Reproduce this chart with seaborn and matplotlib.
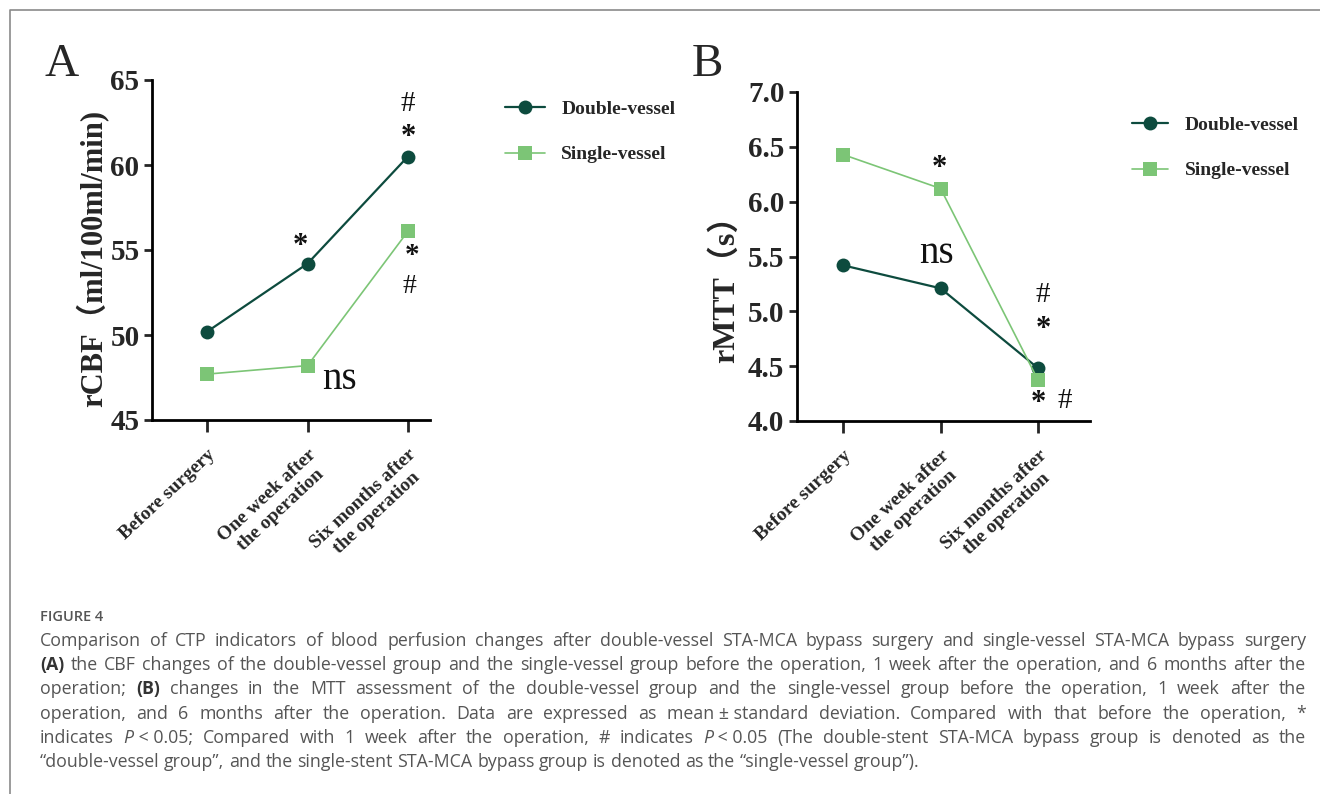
import matplotlib
matplotlib.use("Agg")
import matplotlib.pyplot as plt
import seaborn as sns
import pandas as pd
from matplotlib.lines import Line2D

# Data
timepoints = ["Before surgery", "One week after\nthe operation", "Six months after\nthe operation"]
groups = ["Double-vessel", "Single-vessel"]
rcbf_double = [50.2, 54.2, 60.5]
rcbf_single = [47.7, 48.2, 56.1]
rmtt_double = [5.42, 5.21, 4.48]
rmtt_single = [6.43, 6.12, 4.37]

rcbf_ticks = [45, 50, 55, 60, 65]
rmtt_ticks = [4.0, 4.5, 5.0, 5.5, 6.0, 6.5, 7.0]

caption_title = "FIGURE 4"
caption_lines = [
    "Comparison of CTP indicators of blood perfusion changes after double-vessel STA-MCA bypass surgery and single-vessel STA-MCA bypass surgery",
    "(A) the CBF changes of the double-vessel group and the single-vessel group before the operation, 1 week after the operation, and 6 months after the",
    "operation; (B) changes in the MTT assessment of the double-vessel group and the single-vessel group before the operation, 1 week after the",
    "operation, and 6 months after the operation. Data are expressed as mean\u00a0\u00b1\u00a0standard deviation. Compared with that before the operation, *",
    "indicates P\u00a0<\u00a00.05; Compared with 1 week after the operation, # indicates P\u00a0<\u00a00.05 (The double-stent STA-MCA bypass group is denoted as the",
    "\u201cdouble-vessel group\u201d, and the single-stent STA-MCA bypass group is denoted as the \u201csingle-vessel group\u201d).",
]

DARK = "#0d4b3e"
LIGHT = "#7cc576"
palette = {"Double-vessel": DARK, "Single-vessel": LIGHT}
markers = {"Double-vessel": "o", "Single-vessel": "s"}
widths = {"Double-vessel": 1.6, "Single-vessel": 1.2}

sns.set_style("ticks")
SERIF = ["Liberation Serif", "Noto Sans CJK SC", "DejaVu Serif"]
plt.rcParams["font.family"] = SERIF


def long_df(double, single, name):
    rows = []
    for g, vals in zip(groups, [double, single]):
        for i, v in enumerate(vals):
            rows.append({"pos": i, name: v, "group": g})
    return pd.DataFrame(rows)


def style_axes(ax, ticks, fmt, xlim):
    ax.set_xlim(*xlim)
    ax.set_ylim(ticks[0], ticks[-1])
    ax.set_yticks(ticks)
    ax.set_yticklabels([fmt.format(t) for t in ticks], fontsize=21, fontweight="bold")
    ax.set_xticks(range(len(timepoints)))
    ax.set_xticklabels(timepoints, rotation=43, ha="right", va="top",
                       rotation_mode="anchor", fontsize=14, fontweight="bold",
                       multialignment="center")
    for side in ["top", "right"]:
        ax.spines[side].set_visible(False)
    for side in ["left", "bottom"]:
        ax.spines[side].set_linewidth(2.0)
        ax.spines[side].set_color("black")
    ax.tick_params(axis="y", length=6, width=2, pad=3)
    ax.tick_params(axis="x", length=8.5, width=2, pad=10)
    ax.set_xlabel("")


fig = plt.figure(figsize=(13.2, 7.94), dpi=100)
ax_a = fig.add_axes([152 / 1320, 1 - 420 / 794, 278 / 1320, 340 / 794])
ax_b = fig.add_axes([797 / 1320, 1 - 421 / 794, 293 / 1320, 329 / 794])

df_a = long_df(rcbf_double, rcbf_single, "rcbf")
df_b = long_df(rmtt_double, rmtt_single, "rmtt")

for ax, df, col in [(ax_a, df_a, "rcbf"), (ax_b, df_b, "rmtt")]:
    sns.lineplot(data=df, x="pos", y=col, hue="group", style="group", size="group",
                 palette=palette, markers=markers, dashes=False, sizes=widths,
                 markersize=10, markeredgewidth=0, legend=False, ax=ax, zorder=3)

style_axes(ax_a, rcbf_ticks, "{:d}", (-0.55, 2.22))
style_axes(ax_b, rmtt_ticks, "{:.1f}", (-0.47, 2.53))

ax_a.set_ylabel("rCBF\uff08ml/100ml/min)", fontsize=22, fontweight="bold")
ax_a.yaxis.set_label_coords(-0.155, 0.475)
ax_b.set_ylabel("rMTT\uff08s\uff09", fontsize=23, fontweight="bold")
ax_b.yaxis.set_label_coords(-0.19, 0.425)

# significance marks
sig = dict(ha="center", va="center", color="#111111")
ax_a.text(0.93, 55.2, "*", fontsize=22, fontweight="bold", **sig)
ax_a.text(2.0, 63.6, "#", fontsize=21, **sig)
ax_a.text(2.0, 61.6, "*", fontsize=22, fontweight="bold", **sig)
ax_a.text(2.04, 54.7, "*", fontsize=21, fontweight="bold", **sig)
ax_a.text(2.02, 52.85, "#", fontsize=20, **sig)
ax_a.text(1.32, 47.4, "ns", fontsize=28, **sig)

ax_b.text(0.99, 6.3, "*", fontsize=22, fontweight="bold", **sig)
ax_b.text(0.96, 5.53, "ns", fontsize=28, **sig)
ax_b.text(2.05, 5.15, "#", fontsize=21, **sig)
ax_b.text(2.05, 4.83, "*", fontsize=22, fontweight="bold", **sig)
ax_b.text(2.0, 4.16, "*", fontsize=22, fontweight="bold", **sig)
ax_b.text(2.27, 4.18, "#", fontsize=21, **sig)

# panel letters
fig.text(62 / 1320, 1 - 65 / 794, "A", fontsize=34, ha="center", va="center")
fig.text(707 / 1320, 1 - 65 / 794, "B", fontsize=34, ha="center", va="center")

# legends
handles = [Line2D([], [], color=palette[g], marker=markers[g], markersize=10,
                  markeredgewidth=0, linewidth=widths[g]) for g in groups]
for x, y, hl in [(505 / 1320, 1 - 100 / 794, 2.05), (1132 / 1320, 1 - 116 / 794, 1.85)]:
    fig.legend(handles, groups, loc="upper left", bbox_to_anchor=(x, y),
               frameon=False, handlelength=hl, handletextpad=0.85,
               labelspacing=1.45, borderpad=0, borderaxespad=0,
               prop={"family": SERIF, "weight": "bold", "size": 14})

# frame around figure + caption
fig.add_artist(Line2D([10 / 1320, 10 / 1320, 1.0], [0.0, 1 - 10 / 794, 1 - 10 / 794],
                      color="#8a8a8a", linewidth=1.2, transform=fig.transFigure))

CAP = ["Open Sans", "DejaVu Sans"]
cap_color = "#555555"
cap_size = 12.8
fig.text(40 / 1320, 1 - 617 / 794, caption_title, fontsize=10.5, color="#555555",
         family=CAP, fontweight="semibold", va="center")

renderer = fig.canvas.get_renderer()
W = fig.bbox.width
x0, x1 = 40, 1306
space = cap_size * 100 / 72 * 0.26
for i, line in enumerate(caption_lines):
    y = 1 - (641 + i * 24.2) / 794
    pieces = []
    for word in line.split(" "):
        if word.startswith("P\u00a0"):
            segs = [("P", "italic", "normal"), (word[1:], "normal", "normal")]
        elif word in ("(A)", "(B)"):
            segs = [(word, "normal", "bold")]
        else:
            segs = [(word, "normal", "normal")]
        arts = []
        w = 0
        for s, st, wt in segs:
            t = fig.text(0, y, s, fontsize=cap_size, color="#333333" if wt == "bold" else cap_color,
                         family=CAP, style=st, fontweight=wt, va="center")
            arts.append((t, w))
            w += t.get_window_extent(renderer).width
        pieces.append((arts, w))
    total = sum(p[1] for p in pieces)
    if i < len(caption_lines) - 1:
        gap = max(((x1 - x0) - total) / (len(pieces) - 1), space * 0.6)
    else:
        gap = space
    x = x0
    for arts, w in pieces:
        for t, off in arts:
            t.set_x((x + off) / W)
        x += w + gap

fig.savefig("out.png", dpi=100)
